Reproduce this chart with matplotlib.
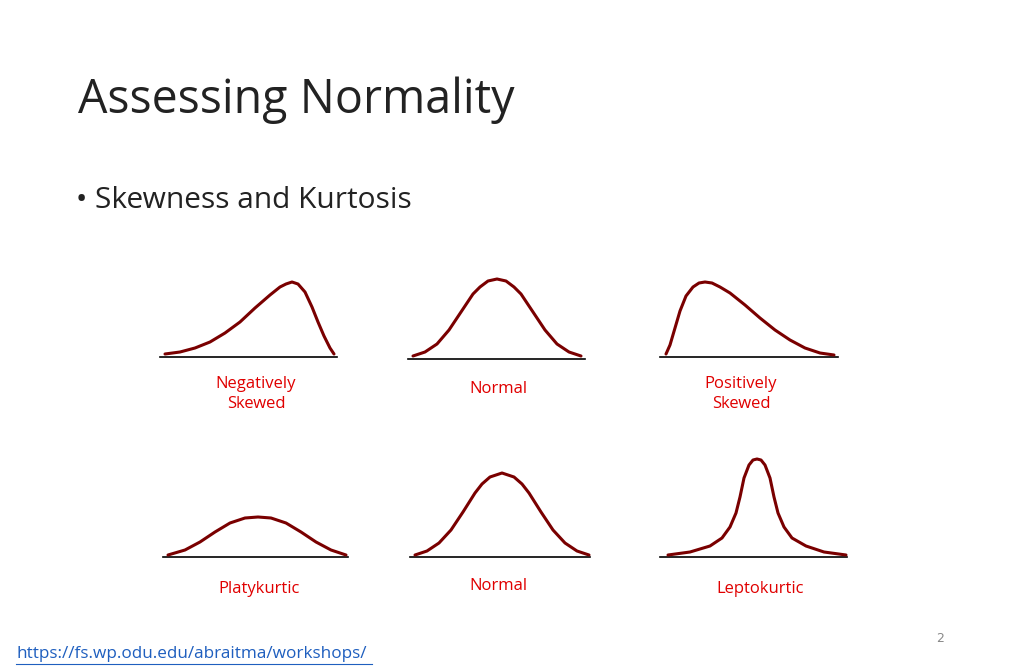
import matplotlib.pyplot as plt

# curve samples (x, y in slide pixels)
neg_x = [165, 180, 195, 210, 225, 240, 255, 270, 280, 286, 292, 298, 305, 312, 318, 324, 330, 334]
neg_y = [354, 352, 348, 342, 333, 322, 308, 295, 287, 284, 282, 284, 292, 307, 322, 336, 348, 354]

norm1_x = [413, 425, 437, 449, 461, 473, 480, 488, 497, 506, 514, 521, 533, 545, 557, 569, 581]
norm1_y = [356, 352, 344, 330, 312, 294, 287, 281, 279, 281, 287, 294, 312, 330, 344, 352, 356]

pos_x = [666, 670, 675, 680, 686, 693, 699, 705, 712, 720, 730, 745, 760, 775, 790, 805, 820, 834]
pos_y = [354, 345, 328, 311, 296, 287, 283, 282, 283, 287, 293, 305, 318, 330, 340, 348, 353, 355]

platy_x = [168, 185, 200, 215, 230, 245, 258, 271, 286, 301, 316, 331, 346]
platy_y = [555, 550, 542, 532, 523, 518, 517, 518, 523, 532, 542, 550, 555]

norm2_x = [415, 427, 439, 451, 463, 475, 482, 490, 502, 514, 522, 529, 541, 553, 565, 577, 589]
norm2_y = [555, 551, 543, 530, 512, 493, 484, 477, 473, 477, 484, 493, 512, 530, 543, 551, 555]

lepto_x = [668, 690, 710, 722, 730, 736, 740, 744, 749, 753, 757, 761, 765, 770, 774, 778, 784, 792, 806, 824, 846]
lepto_y = [555, 552, 546, 538, 527, 513, 497, 478, 465, 460, 459, 460, 465, 478, 497, 513, 527, 538, 546, 552, 555]

curves = [(neg_x, neg_y), (norm1_x, norm1_y), (pos_x, pos_y),
          (platy_x, platy_y), (norm2_x, norm2_y), (lepto_x, lepto_y)]
baselines = [(160, 337, 357), (408, 585, 359), (660, 838, 357),
             (163, 348, 557), (410, 590, 557), (660, 847, 557)]
labels = ["Negatively\nSkewed", "Normal", "Positively\nSkewed",
          "Platykurtic", "Normal", "Leptokurtic"]
label_pos = [(256, 394), (498, 389), (741, 394), (259, 589), (498, 586), (760, 589)]

fig = plt.figure(figsize=(10.24, 6.69), dpi=100)
ax = fig.add_axes([0, 0, 1, 1])
ax.set_xlim(0, 1024)
ax.set_ylim(669, 0)
ax.axis('off')

for (x0, x1, yb) in baselines:
    ax.plot([x0, x1], [yb, yb], color='black', lw=1.2)
for (xs, ys) in curves:
    ax.plot(xs, ys, color='#7a0000', lw=2.2, solid_capstyle='round', solid_joinstyle='round')
for lab, (x, y) in zip(labels, label_pos):
    ax.text(x, y, lab, color='#e00000', fontsize=12, ha='center', va='center',
            family='Open Sans', linespacing=1.3)

ax.text(78, 100, "Assessing Normality", fontsize=33.5, family='Open Sans',
        color='#222222', va='center')
ax.text(76, 200, "\u2022 Skewness and Kurtosis", fontsize=21.5, family='Open Sans',
        color='#222222', va='center')
ax.text(16, 654, "https://fs.wp.odu.edu/abraitma/workshops/", fontsize=12.3,
        family='Open Sans', color='#1f5fbf', va='center')
ax.plot([16, 372], [664, 664], color='#1f5fbf', lw=0.8)
ax.text(940, 638, "2", fontsize=9, color='#888888', ha='center', va='center')

fig.savefig('out.png', dpi=100)
